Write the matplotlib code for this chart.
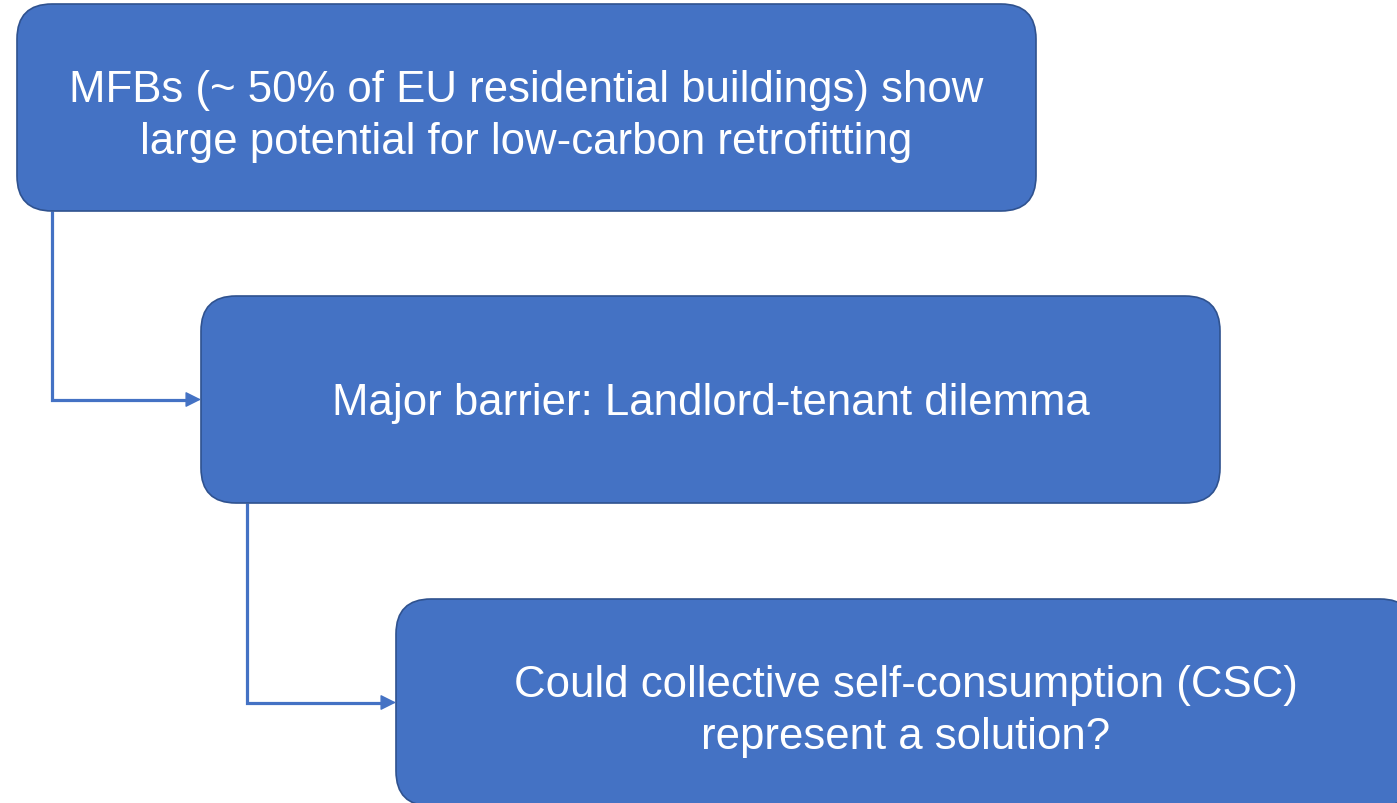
import matplotlib.pyplot as plt
from matplotlib.patches import FancyBboxPatch

# --- CONTENT ---
box_texts = [
    "MFBs (~ 50% of EU residential buildings) show\nlarge potential for low-carbon retrofitting",
    "Major barrier: Landlord-tenant dilemma",
    "Could collective self-consumption (CSC)\nrepresent a solution?",
]

# --- LAYOUT (pixels, y downwards) ---
box_left = [17, 201, 396]
box_top = [5, 297, 600]
box_w = 1019
box_h = 207
fill = "#4472C4"
edge = "#2F528F"

W, H = 1397, 804
fig = plt.figure(figsize=(W / 100, H / 100), dpi=100)
ax = fig.add_axes([0, 0, 1, 1])
ax.set_xlim(0, W)
ax.set_ylim(H, 0)
ax.axis("off")

for x0, y0, txt in zip(box_left, box_top, box_texts):
    ax.add_patch(FancyBboxPatch((x0, y0), box_w, box_h,
                                boxstyle="round,pad=0,rounding_size=35",
                                facecolor=fill, edgecolor=edge, lw=1.2, zorder=2))
    dy = 3 + 5 * txt.count("\n")
    ax.text(x0 + box_w / 2, y0 + box_h / 2 + dy, txt, color="white",
            fontsize=31.5, family="Liberation Sans", ha="center", va="center",
            linespacing=1.33, zorder=3)

# --- CONNECTORS ---
for i in range(len(box_texts) - 1):
    x_line = box_left[i] + 35 if i == 0 else box_left[i] + 46
    y_start = box_top[i] + box_h
    y_mid = box_top[i + 1] + box_h / 2
    ax.plot([x_line, x_line, box_left[i + 1] - 12], [y_start, y_mid, y_mid],
            color=fill, lw=2.3, solid_capstyle="butt", solid_joinstyle="miter",
            zorder=1)
    ax.annotate("", xy=(box_left[i + 1], y_mid), xytext=(box_left[i + 1] - 14, y_mid),
                arrowprops=dict(arrowstyle="-|>", color=fill, lw=1,
                                mutation_scale=24, shrinkA=0, shrinkB=0),
                zorder=1)

fig.savefig("out.png", dpi=100)
